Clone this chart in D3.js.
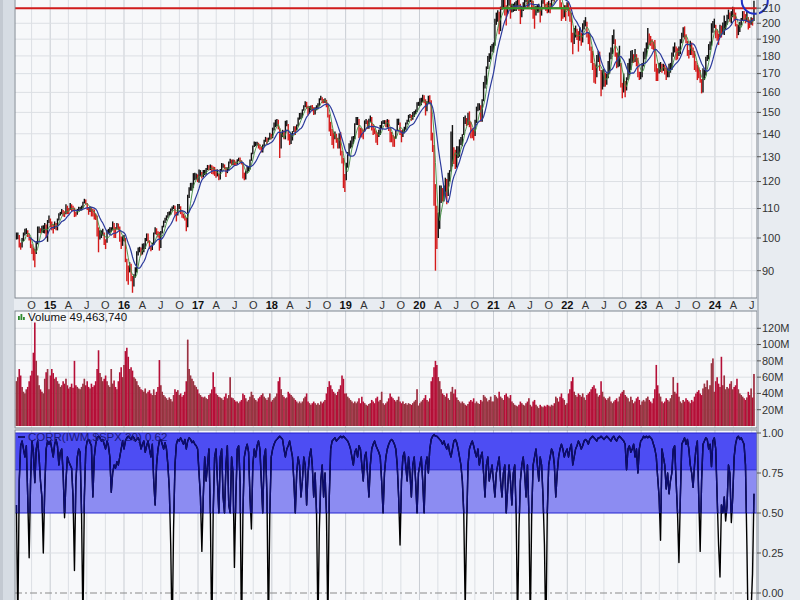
<!DOCTYPE html>
<html><head><meta charset="utf-8">
<script src="https://cdn.jsdelivr.net/npm/d3@7"></script>
<style>body{margin:0;background:#e8ecf1;}svg{display:block;font-family:"Liberation Sans",Arial,sans-serif;}</style>
</head><body><svg id="c" width="800" height="600"></svg>
<script>
// ---------- DATA (weekly, first bar = week ending 2014-07-18) ----------
const weekStart = "2014-07-18";
const weekLow = [
99.5,99.6,97,96.3,97,99,100.8,101.3,100.3,99.2,96.8,95,93,91,95,98,101.6,101.5,101.8,101.6,101.5,100,98.8,105,
103.5,102.5,101.5,103,102.5,102.5,105.8,107.5,108,107.2,107,108,108,108,109.5,109,109,107,107.2,107.8,109,109.2,109.3,110,111.8,111.5,109.5,107.8,108.8,107.2,107.2,106.2,106,100.5,95.5,99.5,100,100.8,97.8,96.5,98.5,101.5,101.5,102,102.5,100,100,102.8,102.5,98.8,96.5,97.5,
99,92.5,87,86,89.5,87,83.8,85.5,88,89.5,94.5,95.5,94.5,94.8,95.5,96.5,99,98.5,96.5,95.8,96.2,97.8,101.2,101,100.2,96,96.8,101.5,103.5,105,105.8,106.8,107.5,107.8,109.2,109.8,107.5,105.5,107.5,109.8,108,106.8,106.5,105.8,102.2,103.5,113.8,116.5,116.5,117.5,120.5,120.8,119.8,
119.5,122,121.2,121.8,122.5,122.8,124.5,124.5,124.5,123,122.8,122.2,121.5,122,120.5,120.8,124,125.5,124.8,121.8,123.3,124.5,127.2,126.5,126.5,126.5,126.2,126.8,128.2,127.5,126.8,121.2,120.5,120.8,123.2,124,124.8,128.3,131,134.2,134.5,134.8,133.5,133,131.8,131.8,134.5,136.4,135.5,136.5,137.3,137.5,
138,141.5,143,143.5,142,129.5,133.5,138.5,137.5,137.5,143.5,137,135,135.5,137,140.8,139.5,141.5,143.5,146.5,146.8,147.5,150.8,152.5,151.8,148.5,149.5,151,150.5,148.8,149,151,151.5,153.2,156,154.5,154.5,154.6,152.5,147.5,141,139,135,133.5,137.5,136,133.5,133.5,130.5,127.2,117.5,116,
120.5,125.5,130.5,133.5,134,135.5,137.5,144,144,138,138.5,138.3,137.5,141,144.5,142.2,142.3,145.5,141.5,139.5,139.8,136,135,138.5,139.5,142.3,144.5,144.5,143,142.8,141.3,136.2,136.2,134.3,134.2,137.8,141.2,144,139.5,136.2,138.5,140.2,141.8,144.2,145.5,147.3,146,146.5,147.8,149.3,150.2,153.2,
153,153.5,155,154.5,148.5,150.5,154.5,154,137,132,111,90,96.5,100,103,112,112.5,112.5,114.5,111.5,114.5,120,124,126,127,125,125.5,129.5,130,135,134.5,139.5,144.5,143.5,144,143,138,138,137,139,145,150.5,151,145.5,145.5,155.5,162,164,172.5,176.5,178,182.5,
182,186,199,201,193,195,209,210,205,198.5,206,212,203,207,207.5,208,208,211,208,199.5,204,208,210,214,210.5,211,214,209,203,196.5,205,207,207,200.5,205,213,210,208,206.5,207,206.5,210,215,214,218,223,219,210,201.5,203,204,201.5,209,
204.5,201,188,181,187,191,189.5,182.5,189,186,188,196,198,191,187,183,176,172,165,164.5,168,176.5,171.5,158,161.5,163,163,164,167.5,170,178,181,187,179.5,173,173.5,174,162.5,157,160,157.5,161,166.5,169,172,176,176,176.5,174,168,166.5,167,
168,174,178,179.5,184,186.5,186,184,183.5,171,166,166,170,171,170.5,171.5,169.5,166.5,168,168,170.5,172,179.5,182,177.5,178,180,181,187.5,191,190,187.5,180,178.5,180.5,180.5,179,172,171,166.5,167.5,165,159.5,160,166.5,169,177,178,183.5,186,194,197,
190.5,189,186.5,191,191,193,192.5,196,199,202.5,201,200,204,202,198,190.5,192.5,194.5,198.5,202,201.5,200,201,196,197,199,198.5,201.5];
const weekHigh = [
101.8,101.8,101,98.5,100,101.8,103,103.2,102.5,101.5,100.2,98,97,96.5,99,103.8,103.8,103.2,104,104.2,105,104.5,106,107.5,
106.5,105.5,104.5,105.5,105,106.5,108.3,108.8,109.8,109.5,109,111.5,111,110.2,112,111.5,111,110.3,108.8,109.8,110.6,110.5,111,112.4,113.5,113.2,112,110.5,110.8,110.5,109.8,109.6,108.2,107.5,103.5,102.5,102.5,103,101.8,99.6,102.6,103,103.5,103.5,105.5,105,103.6,105,104.8,103.8,100.5,100.6,
101,100,93.5,91.5,92.5,92,88.5,89,91,95.8,97,97.2,97,98.2,98.3,100,101.5,101.5,99.2,97.5,98.5,101.8,103.5,103.2,102.2,102,102.3,104,105.8,106.8,107.6,108.8,109,110,110.7,111.2,111,108.8,111.6,111.6,110.8,109,108.2,107.5,106.8,115,117.8,119.5,119.5,123.3,123.5,123.2,122.8,
124.8,124.5,123.8,124.6,124.6,125.4,126.6,126.5,126.8,126.5,126,125.8,124.8,124.8,123,125,127.4,127.2,126.8,125.8,125.6,128,129.2,128.8,128.8,128.7,128,129,129.6,129.7,128.5,127.5,123.5,124.2,126.3,126.2,128.8,131.7,134.8,136.5,136.4,136.4,136,135.4,134.2,135.2,137.3,138.6,138.2,138.3,140.5,140,
142.8,145.2,146.5,146.8,146.5,142.5,140.3,141.8,141.5,146,146.2,144.5,140,140.3,141.2,143.5,143.5,144.2,147.5,149.7,149.8,151.5,153.5,155.5,155.2,153.2,153,153.4,153.6,152.5,152.5,153.5,154.5,157,158.3,157.5,156.6,157,156.2,154.5,149,145.5,142.2,140.5,141,140,138.2,140.2,140.8,132.5,129.5,123,
127.5,132,135.8,137,138.8,139,144.8,147.8,147.8,146.8,142.8,142.5,142,146.2,146.8,146.2,146.9,148.5,147.8,144.5,142.5,141.5,140.6,141.8,144,145.8,146.2,146.3,146.3,146.8,146.5,142.5,140.8,139.5,138.8,141.8,147,147,145.2,141.6,142,143.2,145.2,146.5,148.8,149.2,148.8,150.2,150.7,151.4,155,155.2,
157,157.2,158.8,158.5,156.5,155.5,158.3,158.5,156,140.5,135,119,111,108.5,118.5,118.5,117.5,118.5,121.5,121,123.5,124.5,141,144,134,133,134.5,134.5,137.5,138.5,139.8,147.8,148.5,147.3,149.8,150.5,145.5,142.5,142,146.5,152.8,154.5,154.5,153.5,156.5,165.5,168.8,174,180,181.5,186,187,
188,203,207,208.5,207.5,211,216.5,219,216,212,222,222.5,216,213,213,214,215,217,216,213,211,214,216,222,220,220.5,220,217.5,215,211,211.5,212.5,213,210,215.5,217.5,216.5,213,214,215,213.5,216.5,219.5,220,232.5,232,228,222,214,210.5,212,212,214,
214,210,207,194,197,198.5,196.5,195,197.5,194,200,202,204,201,194,193,185.5,183,176,175,180.5,183,182.5,172,172,172.5,170.5,170,177,182,185,192.5,196,190,182,182,186,176,165,170,166,168,176,178.5,183,183.5,181,184,181,179,171,171,
176,182.5,184.5,188,197,193.5,192,190,188.5,189.5,175.5,173,176,176.5,175.5,175.5,175,173.5,173,175.5,176,182,185.5,188,185.5,184.5,185.5,190,194,197.5,198,193,189,183.5,189,188,185,183,177,175,173.5,172,167,173,172,179.5,180.5,187,188.5,200,201.5,203,
199,196,193.5,199,198.5,200.5,205,201.5,205.5,209,207,208,211,210.5,207,199.5,199,201,203.5,208,208,206,207.5,204,202,204,203.5,215];
const weekVolume = [ // millions of shares
55,60,70,62,48,42,40,45,48,55,62,68,90,127,80,62,50,45,42,40,58,66,70,45,
62,70,65,58,60,55,52,48,50,55,52,58,50,46,48,52,47,80,50,48,46,45,48,52,58,50,55,48,46,52,48,50,55,70,93,65,60,55,58,62,55,50,48,70,52,56,48,45,55,66,72,60,
75,92,96,85,70,72,68,60,58,55,50,48,45,44,42,46,40,42,44,40,38,45,38,42,48,81,50,42,38,36,34,32,35,33,30,38,45,42,44,38,40,36,38,42,55,106,70,62,58,55,50,48,45,
40,38,36,35,36,34,33,38,40,45,66,48,40,38,36,35,34,32,36,40,34,38,60,35,34,32,30,30,28,30,32,40,38,34,30,32,36,42,38,34,32,30,34,36,38,40,36,34,32,35,40,30,
32,34,36,40,55,60,45,38,36,34,35,42,40,38,36,34,32,30,28,30,28,30,34,36,40,30,28,26,28,30,28,26,28,26,30,28,30,32,40,48,55,50,45,42,40,38,42,45,50,62,58,40,
40,36,34,32,30,28,30,28,30,34,28,36,30,28,26,25,27,28,32,30,28,34,36,30,32,42,28,26,28,30,34,40,36,34,32,30,32,36,30,28,30,27,28,26,28,27,26,28,30,32,45,25,
28,30,32,34,38,32,30,34,55,60,72,80,75,60,55,45,40,38,36,40,34,32,42,48,40,45,35,32,30,28,30,28,26,25,27,30,32,30,34,28,30,28,27,32,30,38,36,34,30,32,36,30,
30,38,36,34,42,36,34,32,38,40,36,34,38,30,28,26,25,24,26,30,28,26,25,28,30,34,26,24,30,32,26,24,22,26,24,23,25,24,26,25,24,26,25,28,36,34,30,36,40,34,32,26,28,
40,45,55,60,42,38,36,40,38,36,40,35,32,38,40,42,45,48,50,46,40,36,38,55,42,36,34,32,34,36,30,28,30,32,34,30,36,40,42,44,38,36,34,30,36,32,28,30,34,36,32,26,
30,32,30,34,36,32,30,28,34,45,75,50,40,36,30,28,30,34,32,30,34,38,60,42,40,53,36,30,28,32,30,34,32,30,28,32,30,36,40,42,44,40,38,46,52,48,56,45,50,77,83,42,
55,60,52,48,85,50,62,45,48,46,52,55,45,48,50,58,45,40,38,36,34,32,35,42,38,46,35,64];
const weekCorr = [
0.55,-0.2,0.7,0.92,0.95,0.9,0.85,0.92,0.6,0.22,0.7,0.95,0.88,0.69,0.9,0.95,0.85,0.7,0.6,0.25,0.65,0.9,0.95,0.93,
0.95,0.9,0.85,0.93,0.96,0.92,0.8,0.88,0.9,0.75,0.47,0.7,0.85,0.82,0.8,0.78,0.6,0.14,0.7,0.85,0.9,0.88,0.5,-0.2,0.6,0.9,0.95,0.96,0.94,0.92,0.6,0.85,0.93,0.97,0.98,0.97,0.95,0.96,0.93,0.9,0.95,0.92,0.85,0.63,0.75,0.8,0.78,0.82,0.8,0.85,0.9,0.95,
0.9,0.95,0.97,0.98,0.97,0.96,0.98,0.97,0.95,0.96,0.97,0.95,0.9,0.93,0.95,0.88,0.92,0.95,0.9,0.85,0.93,0.7,0.55,0.8,0.9,0.95,0.96,0.93,0.9,0.94,0.9,0.8,0.65,0.3,-0.3,0.4,0.8,0.93,0.96,0.95,0.97,0.95,0.93,0.96,0.9,0.95,0.97,0.96,0.94,0.95,0.93,0.92,0.9,
0.75,0.6,0.26,0.6,0.85,0.7,0.8,0.9,0.5,-0.3,0.5,0.85,0.9,0.7,0.5,0.85,0.9,0.6,0.5,0.8,0.92,0.55,0.5,0.85,0.75,0.16,0.6,0.9,0.92,0.7,-0.3,0.5,0.85,0.9,0.93,0.88,0.6,0.4,0.8,0.9,0.85,0.92,0.95,0.9,0.7,0.5,0.85,0.9,0.6,-0.25,0.5,0.85,
0.9,0.93,0.95,0.96,0.97,0.98,0.97,0.96,0.9,0.85,0.9,0.92,0.95,0.9,0.85,0.7,0.5,0.75,0.85,0.8,0.6,0.7,0.85,0.8,0.55,0.75,0.85,0.9,0.8,0.6,0.75,0.5,-0.2,0.4,0.7,0.8,0.6,0.75,0.5,-0.2,0.6,0.9,0.95,0.96,0.97,0.95,0.96,0.97,0.98,0.97,0.98,0.97,
0.96,0.95,0.93,0.9,0.85,0.8,0.88,0.9,0.85,0.92,0.9,0.8,0.7,0.85,0.88,0.75,0.6,0.8,0.9,0.93,0.95,0.92,0.9,0.88,0.85,0.7,0.5,0.75,0.85,0.9,0.93,0.95,0.96,0.95,0.93,0.9,0.8,0.6,0.3,0.7,0.85,0.88,0.8,0.7,0.85,0.75,0.6,0.8,0.85,0.7,0.5,0.75,
0.8,0.85,0.7,0.5,0.8,0.85,0.75,0.9,0.96,0.98,0.99,0.98,0.98,0.97,0.96,0.95,0.93,0.95,0.92,0.9,0.93,0.88,0.85,0.9,0.95,0.96,0.94,0.9,0.85,0.8,0.7,0.5,-0.1,0.4,0.8,0.9,0.93,0.95,0.92,0.88,0.85,0.9,0.8,0.85,0.88,0.75,0.6,0.8,0.85,0.7,0.75,0.8,
0.7,0.6,0.75,0.8,0.85,0.7,0.6,0.75,0.8,0.5,0.65,0.8,0.7,0.55,0.75,0.8,0.5,-0.2,0.4,0.7,0.8,0.85,0.75,0.6,0.8,0.5,-0.2,0.5,0.8,0.85,0.9,0.8,0.7,0.85,0.8,0.6,0.3,-0.3,0.5,0.8,0.85,0.9,0.88,0.8,0.6,0.75,0.85,0.9,0.93,0.9,0.85,0.88,0.9,
0.85,0.9,0.93,0.8,0.85,0.9,0.92,0.95,0.93,0.9,0.92,0.95,0.96,0.95,0.93,0.96,0.97,0.98,0.97,0.96,0.95,0.97,0.97,0.98,0.97,0.96,0.97,0.98,0.97,0.96,0.95,0.97,0.98,0.96,0.95,0.97,0.98,0.97,0.96,0.95,0.93,0.77,0.9,0.92,0.88,0.9,0.93,0.85,0.9,0.75,0.9,0.95,
0.96,0.98,0.97,0.98,0.97,0.98,0.97,0.96,0.93,0.9,0.85,0.72,0.6,0.33,0.9,0.85,0.8,0.65,0.75,0.62,0.7,0.75,0.9,0.92,0.7,0.5,0.19,0.6,0.93,0.95,0.97,0.93,0.96,0.9,0.8,0.75,0.66,0.8,0.9,0.95,0.6,0.26,0.7,0.93,0.95,0.97,0.96,0.9,0.93,0.79,0.95,0.97,
0.9,0.6,0.3,0.1,0.55,0.5,0.6,0.45,0.55,0.8,0.75,0.44,0.6,0.85,0.93,0.97,0.98,0.96,0.97,0.95,0.93,0.8,0.3,-0.3,-0.2,-0.1,0.12,0.62];
const priceTicks = [90,100,110,120,130,140,150,160,170,180,190,200,210];
const volumeTicks = [20,40,60,80,100,120];
const corrTicks = [0,0.25,0.5,0.75,1];
const corrBands = [[0.77,1,"#4d4df3"],[0.5,0.77,"#8c8cf2"]];
const resistanceLevel = 210;
const greenSegment = ["2021-02-10","2022-01-10"];
const circleAt = ["2024-07-16", 215];
const volumeTitle = "Volume 49,463,740";
const corrTitle = "CORR(IWM,$SPX,20) 0.62";
const maSlowWeeks = 10, maFastWeeks = 4;

// ---------- LAYOUT ----------
const L = 15, R = 757;
const svg = d3.select("#c");
const parse = d3.utcParse("%Y-%m-%d");
const n = Math.min(weekLow.length, weekHigh.length, weekVolume.length, weekCorr.length);
const t0 = parse(weekStart);
const dates = d3.range(n).map(i => d3.utcDay.offset(t0, 7 * i));
const x = d3.scaleUtc().domain([parse("2014-07-11"), parse("2024-07-27")]).range([L, R]);
const yP = d3.scaleLog().domain([82.4, 215.6]).range([298, 0]);
const yV = d3.scaleLinear().domain([0, 140]).range([426, 312]);
const yC = d3.scaleLinear().domain([0, 1]).range([593, 433]);
const font = '"Liberation Sans",Arial,sans-serif';

// background
svg.append("rect").attr("width", 800).attr("height", 600).attr("fill", "#e8ecf1");
svg.append("rect").attr("x", 0).attr("y", 0).attr("width", 14).attr("height", 600).attr("fill", "#d6dce3");
svg.append("rect").attr("x", 0).attr("y", 0).attr("width", 3).attr("height", 600).attr("fill", "#c3c9d1");

const panels = [
  {y0: -5, y1: 298},
  {y0: 311, y1: 428},
  {y0: 430, y1: 606}
];
panels.forEach(p => svg.append("rect").attr("x", L).attr("y", p.y0).attr("width", R - L).attr("height", p.y1 - p.y0).attr("fill", "#f7f8fa"));

const defs = svg.append("defs");
panels.forEach((p, i) => defs.append("clipPath").attr("id", "clip" + i).append("rect").attr("x", L).attr("y", p.y0).attr("width", R - L).attr("height", p.y1 - p.y0));
defs.append("clipPath").attr("id", "clipBand").append("rect").attr("x", L).attr("y", yC(1)).attr("width", R - L).attr("height", yC(0.5) - yC(1));

// quarterly verticals
const quarters = d3.utcMonth.every(3).range(parse("2014-10-01"), parse("2024-07-02"));
panels.forEach(p => {
  svg.append("g").selectAll("line").data(quarters).join("line")
    .attr("x1", d => x(d)).attr("x2", d => x(d)).attr("y1", Math.max(p.y0, 0)).attr("y2", p.y1)
    .attr("stroke", d => d.getUTCMonth() === 0 ? "#c9cdd3" : "#dcdfe4").attr("stroke-width", 1);
});
// horizontal grids
svg.append("g").selectAll("line").data(priceTicks).join("line")
  .attr("x1", L).attr("x2", R).attr("y1", d => yP(d)).attr("y2", d => yP(d)).attr("stroke", "#dcdfe4");
svg.append("g").selectAll("line").data(volumeTicks).join("line")
  .attr("x1", L).attr("x2", R).attr("y1", d => yV(d)).attr("y2", d => yV(d)).attr("stroke", "#dcdfe4");

// ---------- PRICE ----------
const mids = d3.range(n).map(i => (weekLow[i] + weekHigh[i]) / 2);
const up = d3.range(n).map(i => i === 0 ? true : mids[i] >= mids[i - 1]);
const gP = svg.append("g").attr("clip-path", "url(#clip0)");
gP.selectAll("line.bar").data(d3.range(n)).join("line")
  .attr("x1", i => x(dates[i])).attr("x2", i => x(dates[i]))
  .attr("y1", i => yP(weekLow[i])).attr("y2", i => yP(weekHigh[i]))
  .attr("stroke", i => up[i] ? "#111" : "#d41a1a").attr("stroke-width", 1.4);
function sma(arr, k) { return arr.map((v, i) => i < k - 1 ? null : d3.mean(arr.slice(i - k + 1, i + 1))); }
const slow = sma(mids, maSlowWeeks), fast = sma(mids, maFastWeeks);
const maLine = arr => d3.line().defined((d, i) => arr[i] != null).x((d, i) => x(dates[i])).y((d, i) => yP(arr[i]))(arr);
gP.append("path").attr("d", maLine(fast)).attr("fill", "none").attr("stroke", "#3f8f3f").attr("stroke-width", 0.9);
gP.append("path").attr("d", maLine(slow)).attr("fill", "none").attr("stroke", "#2b3a9c").attr("stroke-width", 1.2);
// resistance line + segment + circle
svg.append("line").attr("x1", L).attr("x2", R).attr("y1", yP(resistanceLevel)).attr("y2", yP(resistanceLevel))
  .attr("stroke", "#d11c1c").attr("stroke-width", 2);
svg.append("line").attr("x1", x(parse(greenSegment[0]))).attr("x2", x(parse(greenSegment[1])))
  .attr("y1", yP(resistanceLevel)).attr("y2", yP(resistanceLevel)).attr("stroke", "#2a9a2a").attr("stroke-width", 2);
svg.append("circle").attr("cx", x(parse(circleAt[0]))).attr("cy", yP(circleAt[1])).attr("r", 13)
  .attr("fill", "none").attr("stroke", "#1f2fc4").attr("stroke-width", 2);

// ---------- VOLUME ----------
const gV = svg.append("g").attr("clip-path", "url(#clip1)");
gV.selectAll("line.v").data(d3.range(n)).join("line")
  .attr("x1", i => x(dates[i])).attr("x2", i => x(dates[i]))
  .attr("y1", yV(0)).attr("y2", i => yV(weekVolume[i]))
  .attr("stroke", "#b50f37").attr("stroke-width", 1.6);
gV.selectAll("line.g").data(d3.range(n).filter(i => up[i])).join("line")
  .attr("x1", i => x(dates[i])).attr("x2", i => x(dates[i]))
  .attr("y1", yV(0)).attr("y2", i => yV(weekVolume[i]))
  .attr("stroke", "#5e7d55").attr("stroke-width", 0.45);
// header
const ic = svg.append("g");
[[18, 316, 4], [20.5, 314, 6], [23, 317, 3]].forEach(b => ic.append("rect").attr("x", b[0]).attr("y", b[1]).attr("width", 1.8).attr("height", b[2]).attr("fill", "#2f8a2f"));
svg.append("text").attr("x", 28).attr("y", 321).text(volumeTitle).attr("font-size", 11.5).attr("fill", "#111").attr("font-family", font);

// ---------- CORRELATION ----------
const gC = svg.append("g").attr("clip-path", "url(#clip2)");
corrBands.forEach(b => gC.append("rect").attr("x", L).attr("width", R - L).attr("y", yC(b[1])).attr("height", yC(b[0]) - yC(b[1])).attr("fill", b[2]));
[1, 0.77, 0.5].forEach(v => gC.append("line").attr("x1", L).attr("x2", R).attr("y1", yC(v)).attr("y2", yC(v)).attr("stroke", "#2424d0").attr("stroke-width", 1));
gC.append("line").attr("x1", L).attr("x2", R).attr("y1", yC(0.25)).attr("y2", yC(0.25)).attr("stroke", "#dcdfe4");
gC.append("line").attr("x1", L).attr("x2", R).attr("y1", yC(0)).attr("y2", yC(0)).attr("stroke", "#8a8a8a").attr("stroke-dasharray", "7,3,2,3");
const cLine = d3.line().x((d, i) => x(dates[i])).y(d => yC(d))(weekCorr.slice(0, n));
gC.append("path").attr("d", cLine).attr("fill", "none").attr("stroke", "#000").attr("stroke-width", 1.4).attr("stroke-linejoin", "round");
svg.append("g").attr("clip-path", "url(#clipBand)").append("path").attr("d", cLine).attr("fill", "none").attr("stroke", "#0c0c70").attr("stroke-width", 1.4).attr("stroke-linejoin", "round");
svg.append("line").attr("x1", 18).attr("x2", 25).attr("y1", 437).attr("y2", 437).attr("stroke", "#141470").attr("stroke-width", 2);
svg.append("text").attr("x", 28).attr("y", 441).text(corrTitle).attr("font-size", 11.5).attr("fill", "#1a1a78").attr("font-family", font);

// ---------- FRAMES & AXES ----------
panels.forEach(p => svg.append("rect").attr("x", L).attr("y", p.y0).attr("width", R - L).attr("height", p.y1 - p.y0)
  .attr("fill", "none").attr("stroke", "#7f868f").attr("stroke-width", 1));
svg.append("line").attr("x1", R + 1).attr("x2", R + 1).attr("y1", 0).attr("y2", 600).attr("stroke", "#b7bdc5").attr("stroke-width", 2);
function rightAxis(ticks, scale, fmt) {
  const g = svg.append("g");
  g.selectAll("line").data(ticks).join("line").attr("x1", R).attr("x2", R + 4).attr("y1", d => scale(d)).attr("y2", d => scale(d)).attr("stroke", "#555");
  g.selectAll("text").data(ticks).join("text").attr("x", R + 5).attr("y", d => scale(d)).attr("dy", "0.35em")
    .text(fmt).attr("font-size", 11).attr("fill", "#333").attr("font-family", font);
}
rightAxis(priceTicks, yP, d => d);
rightAxis(volumeTicks, yV, d => d + "M");
rightAxis(corrTicks, yC, d => d3.format(".2f")(d));

// x-axis labels
const monthLetter = {3: "A", 6: "J", 9: "O"};
svg.append("g").selectAll("text").data(quarters).join("text")
  .attr("x", d => x(d)).attr("y", 309).attr("text-anchor", "middle")
  .text(d => d.getUTCMonth() === 0 ? String(d.getUTCFullYear()).slice(2) : monthLetter[d.getUTCMonth()])
  .attr("font-weight", d => d.getUTCMonth() === 0 ? "bold" : "normal")
  .attr("font-size", 11).attr("fill", d => d.getUTCMonth() === 0 ? "#111" : "#333").attr("font-family", font);
</script></body></html>
